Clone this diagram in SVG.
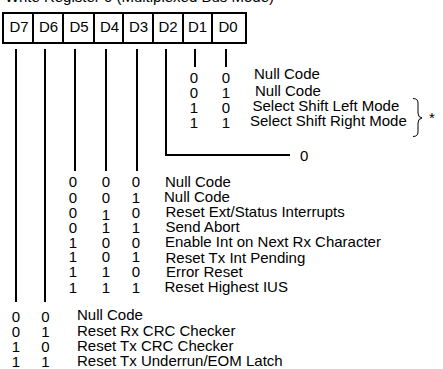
<svg xmlns="http://www.w3.org/2000/svg" width="443" height="369" viewBox="0 0 443 369">
<style>
text{font-family:"Liberation Sans",Arial,Helvetica,sans-serif;font-size:15px;fill:#000}
.c{text-anchor:middle}
.ln{stroke:#000;stroke-width:2;fill:none}
.br{stroke:#000;stroke-width:1;fill:none}
</style>
<rect width="443" height="369" fill="#fff"/>
<g id="title"><text x="5" y="2">Write Register 0 (Multiplexed Bus Mode)</text></g>
<g id="register">
<rect x="3" y="13" width="243" height="30" class="ln"/>
<path class="ln" d="M33 13V43M63 13V43M94 13V43M123 13V43M153 13V43M183 13V43M212 13V43"/>
<text class="c" x="19" y="32">D7</text>
<text class="c" x="48.5" y="32">D6</text>
<text class="c" x="79" y="32">D5</text>
<text class="c" x="109.5" y="32">D4</text>
<text class="c" x="138.5" y="32">D3</text>
<text class="c" x="168" y="32">D2</text>
<text class="c" x="197.5" y="32">D1</text>
<text class="c" x="228" y="32">D0</text>
</g>
<g id="connectors">
<path class="ln" d="M16 49V302M45 49V302M75 49V171M106 49V171M137 49V171M166 49V155H290M195 49V67M226 49V67"/>
</g>
<g id="d1d0-table">
<text class="c" x="194" y="82.5">0</text><text class="c" x="226" y="82.5">0</text><text x="254" y="79">Null Code</text>
<text class="c" x="194" y="98">0</text><text class="c" x="226" y="98">1</text><text x="255" y="96">Null Code</text>
<text class="c" x="194" y="113">1</text><text class="c" x="226" y="113">0</text><text x="252.5" y="110.5">Select Shift Left Mode</text>
<text class="c" x="194" y="128">1</text><text class="c" x="226" y="128">1</text><text x="250" y="125.5">Select Shift Right Mode</text>
<path class="br" d="M413 98.5Q418 98.5 418 103V113Q418 117.5 422 118Q418 118.5 418 123V132Q418 136.5 413 136.5"/>
<text x="429" y="122.5">*</text>
</g>
<g id="d2-value"><text x="300" y="160.5">0</text></g>
<g id="d5d3-table">
<text class="c" x="73" y="187">0</text><text class="c" x="106" y="187">0</text><text class="c" x="136" y="187">0</text><text x="165" y="187">Null Code</text>
<text class="c" x="73" y="202.5">0</text><text class="c" x="106" y="202.5">0</text><text class="c" x="136" y="202.5">1</text><text x="164" y="202">Null Code</text>
<text class="c" x="73" y="218">0</text><text class="c" x="106" y="220">1</text><text class="c" x="136" y="218">0</text><text x="165.5" y="217">Reset Ext/Status Interrupts</text>
<text class="c" x="73" y="232.5">0</text><text class="c" x="106" y="232.5">1</text><text class="c" x="136" y="232.5">1</text><text x="165.5" y="232">Send Abort</text>
<text class="c" x="73" y="247.5">1</text><text class="c" x="106" y="247.5">0</text><text class="c" x="136" y="247.5">0</text><text x="165" y="247">Enable Int on Next Rx Character</text>
<text class="c" x="73" y="262">1</text><text class="c" x="106" y="262">0</text><text class="c" x="136" y="262">1</text><text x="165.5" y="262.5">Reset Tx Int Pending</text>
<text class="c" x="73" y="277">1</text><text class="c" x="106" y="277">1</text><text class="c" x="136" y="277">0</text><text x="166" y="277">Error Reset</text>
<text class="c" x="73" y="292.5">1</text><text class="c" x="106" y="292.5">1</text><text class="c" x="136" y="292.5">1</text><text x="164.5" y="292">Reset Highest IUS</text>
</g>
<g id="d7d6-table">
<text class="c" x="16" y="321.5">0</text><text class="c" x="45.5" y="321.5">0</text><text x="77" y="320">Null Code</text>
<text class="c" x="16" y="337">0</text><text class="c" x="45.5" y="337">1</text><text x="77" y="336">Reset Rx CRC Checker</text>
<text class="c" x="16" y="352">1</text><text class="c" x="45.5" y="352">0</text><text x="77" y="351">Reset Tx CRC Checker</text>
<text class="c" x="16" y="367">1</text><text class="c" x="45.5" y="367">1</text><text x="77" y="366">Reset Tx Underrun/EOM Latch</text>
</g>
</svg>
